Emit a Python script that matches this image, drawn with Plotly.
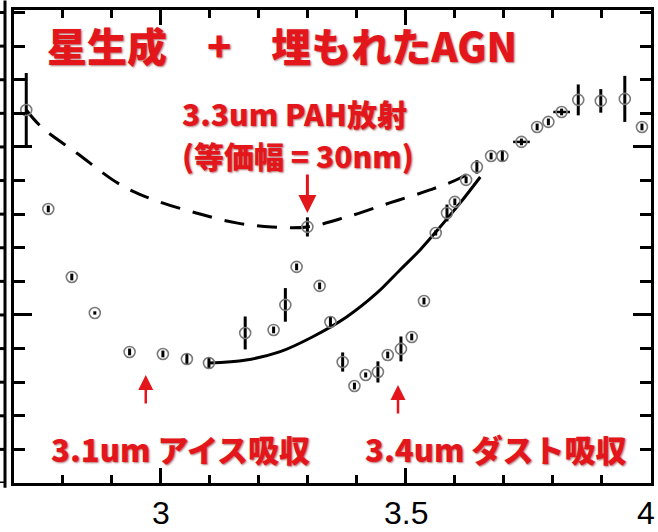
import plotly.graph_objects as go

# ---- data ----
# observed spectrum: wavelength [um], flux [arb. units], 1-sigma error
wavelength = [2.725, 2.770, 2.818, 2.865, 2.936, 3.004, 3.053, 3.098, 3.172, 3.230,
              3.254, 3.277, 3.299, 3.324, 3.346, 3.371, 3.395, 3.418, 3.443, 3.463,
              3.490, 3.512, 3.537, 3.561, 3.584, 3.600, 3.623, 3.645, 3.674, 3.697,
              3.736, 3.768, 3.791, 3.818, 3.852, 3.898, 3.947, 3.982]
flux = [2.220, 1.631, 1.226, 1.012, 0.780, 0.768, 0.738, 0.714, 0.893, 0.911,
        1.060, 1.286, 1.524, 1.173, 0.958, 0.720, 0.577, 0.643, 0.661, 0.762,
        0.798, 0.869, 1.083, 1.488, 1.607, 1.673, 1.804, 1.881, 1.946, 1.946,
        2.030, 2.119, 2.149, 2.208, 2.280, 2.274, 2.286, 2.119]
flux_err = [0.220, 0.020, 0.020, 0.010, 0.020, 0.020, 0.030, 0.030, 0.098, 0.020,
            0.100, 0.020, 0.057, 0.020, 0.036, 0.057, 0.020, 0.015, 0.063, 0.020,
            0.074, 0.020, 0.020, 0.015, 0.050, 0.020, 0.020, 0.040, 0.020, 0.030,
            0.020, 0.020, 0.020, 0.020, 0.092, 0.070, 0.137, 0.020]
wave_err = [0, 0, 0, 0, 0, 0, 0, 0, 0, 0,
            0, 0, 0, 0, 0, 0, 0, 0, 0, 0,
            0, 0, 0, 0, 0, 0, 0, 0, 0, 0,
            0.017, 0, 0, 0.017, 0, 0, 0, 0]

# continuum without the 3.1um ice absorption (dashed)
ice_cont_x = [2.725, 2.756, 2.828, 2.918, 2.986, 3.072, 3.154, 3.227, 3.299,
              3.379, 3.467, 3.549, 3.611, 3.645]
ice_cont_y = [2.220, 2.119, 1.964, 1.774, 1.685, 1.607, 1.548, 1.524, 1.524,
              1.583, 1.667, 1.744, 1.815, 1.881]

# PAH continuum (solid)
pah_cont_x = [3.098, 3.174, 3.242, 3.309, 3.379, 3.441, 3.488, 3.529, 3.570, 3.611, 3.652]
pah_cont_y = [0.714, 0.732, 0.780, 0.869, 0.988, 1.131, 1.268, 1.387, 1.524, 1.667, 1.821]

x_tickvals = [3, 3.5, 4]
x_ticktext = ["3", "3.5", "4"]
neighbour_ticks = [0.2 * i for i in range(15)]

title_text = "星生成　+　埋もれたAGN"
pah_text_1 = "3.3um PAH放射"
pah_text_2 = "(等価幅 = 30nm)"
ice_text = "3.1um アイス吸収"
dust_text = "3.4um ダスト吸収"

RED = "#e3161c"
JP_FONT = "Noto Sans CJK JP"
SHADOW = "1px 1px 2px rgba(110,0,0,0.55)"
X_RANGE = [2.7, 4.0005]
Y_RANGE = [0, 2.815]

W, H = 658, 532
ML, MR, MT, MB = 14, 7, 10, 49
PW = W - ML - MR

fig = go.Figure()

fig.add_trace(go.Scatter(
    x=ice_cont_x, y=ice_cont_y, mode="lines",
    line=dict(color="black", width=3, dash="20px,13px", shape="spline", smoothing=1.0),
    hoverinfo="skip", showlegend=False))

fig.add_trace(go.Scatter(
    x=pah_cont_x, y=pah_cont_y, mode="lines",
    line=dict(color="black", width=3, shape="spline", smoothing=1.0),
    hoverinfo="skip", showlegend=False))

fig.add_trace(go.Scatter(
    x=wavelength, y=flux, mode="markers",
    marker=dict(symbol="circle-open", size=11, color="#7a7a7a", line=dict(width=1.6)),
    error_y=dict(type="data", array=flux_err, color="black", thickness=3, width=0),
    error_x=dict(type="data", array=wave_err, color="black", thickness=2.5, width=0),
    showlegend=False))

# annotations
def red_font(size):
    return dict(family=JP_FONT, size=size, color=RED, weight=900, shadow=SHADOW)

fig.add_annotation(x=3.248, y=2.607, text=title_text, showarrow=False, font=red_font(40))
fig.add_annotation(x=3.273, y=2.200, text=pah_text_1, showarrow=False, font=red_font(30))
fig.add_annotation(x=3.280, y=1.955, text=pah_text_2, showarrow=False, font=red_font(30))
fig.add_annotation(x=3.039, y=0.208, text=ice_text, showarrow=False, font=red_font(31))
fig.add_annotation(x=3.684, y=0.208, text=dust_text, showarrow=False, font=red_font(31))

# arrows
fig.add_annotation(x=3.299, y=1.607, text="", showarrow=True,
                   ax=0, ay=-40, arrowhead=2, arrowsize=1.2, arrowwidth=3, arrowcolor=RED)
fig.add_annotation(x=2.969, y=0.643, text="", showarrow=True,
                   ax=0, ay=30, arrowhead=2, arrowsize=1.2, arrowwidth=2.5, arrowcolor=RED)
fig.add_annotation(x=3.484, y=0.583, text="", showarrow=True,
                   ax=0, ay=30, arrowhead=2, arrowsize=1.2, arrowwidth=2.5, arrowcolor=RED)

# x tick labels (kept inside the page)
tick_font = dict(family="Liberation Sans", size=32, color="black")
for val, txt in zip(x_tickvals, x_ticktext):
    is_last = val == x_tickvals[-1]
    fig.add_annotation(x=val, y=0, xref="x", yref="paper", text=txt, showarrow=False,
                       xanchor="right" if is_last else "center", yanchor="middle",
                       xshift=6 if is_last else 0, yshift=-30, font=tick_font)

# edge of the neighbouring panel on the far left (frame line + outward ticks)
edge_x = -9 / PW
fig.add_shape(type="line", xref="paper", yref="paper", x0=edge_x, x1=edge_x,
              y0=-0.01, y1=1.02, line=dict(color="black", width=3))
for v in neighbour_ticks:
    fig.add_shape(type="line", xref="paper", yref="y", x0=edge_x, x1=-14 / PW,
                  y0=v, y1=v, line=dict(color="black", width=3))

fig.update_layout(
    width=W, height=H,
    margin=dict(l=ML, r=MR, t=MT, b=MB, pad=0, autoexpand=False),
    paper_bgcolor="white", plot_bgcolor="white",
    xaxis=dict(range=X_RANGE, showgrid=False, zeroline=False,
               showline=True, linecolor="black", linewidth=3, mirror="ticks",
               ticks="inside", ticklen=15, tickwidth=3, tickcolor="black",
               tickvals=x_tickvals, showticklabels=False,
               minor=dict(ticks="inside", dtick=0.1, tick0=2.7, ticklen=8, tickwidth=3,
                          tickcolor="black")),
    yaxis=dict(range=Y_RANGE, showgrid=False, zeroline=False,
               showline=True, linecolor="black", linewidth=3, mirror="ticks",
               ticks="inside", ticklen=18, tickwidth=3, tickcolor="black",
               dtick=1, tick0=0, showticklabels=False,
               minor=dict(ticks="inside", dtick=0.2, tick0=0, ticklen=11, tickwidth=3,
                          tickcolor="black")),
)

fig.write_html("out.html")
